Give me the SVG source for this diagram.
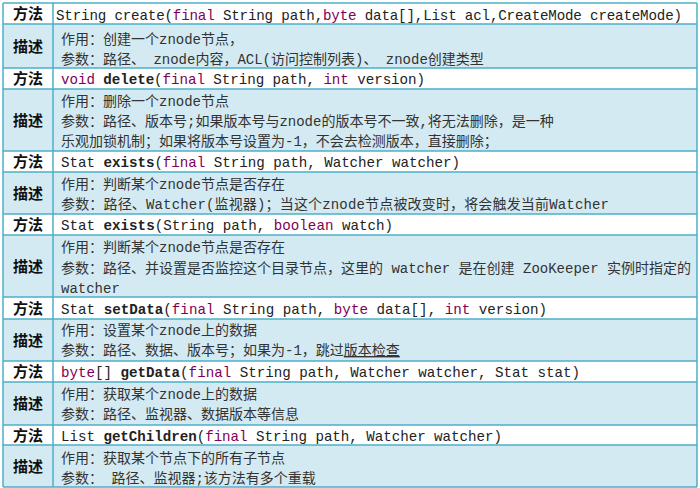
<svg xmlns="http://www.w3.org/2000/svg" width="700" height="488" viewBox="0 0 700 488">
<style>
.bg{fill:#ffffff}
.blue{fill:#D3EAF2}
.ln{stroke:#4FAFC9;stroke-width:1.5;fill:none}
.lbl{font-family:"Noto Sans CJK SC","Noto Sans",sans-serif;font-weight:bold;font-size:15px;fill:#111;text-anchor:middle}
.code{font-family:"Liberation Mono","Noto Sans CJK SC",monospace;font-size:14.2px;fill:#222}
.desc{font-family:"Liberation Mono","Noto Sans CJK SC",monospace;font-size:14px;fill:#333}
.kw{fill:#7F0055}
.b{font-weight:bold}
.u{text-decoration:underline}
</style>
<rect class="bg" x="0" y="0" width="700" height="488"/>
<g id="fills">
<rect class="blue" x="3" y="24" width="694" height="44"/>
<rect class="blue" x="3" y="89" width="694" height="62"/>
<rect class="blue" x="3" y="172" width="694" height="42"/>
<rect class="blue" x="3" y="235" width="694" height="62"/>
<rect class="blue" x="3" y="319" width="694" height="42"/>
<rect class="blue" x="3" y="382" width="694" height="43"/>
<rect class="blue" x="3" y="445" width="694" height="42"/>
</g>
<g id="grid">
<path class="ln" d="M3 3H697M3 24H697M3 68H697M3 89H697M3 151H697M3 172H697M3 214H697M3 235H697M3 297H697M3 319H697M3 361H697M3 382H697M3 425H697M3 445H697M3 487H697"/>
<path class="ln" d="M3 3V487M53 3V487M697 3V487"/>
</g>
<g id="labels">
<text class="lbl" x="28" y="19">方法</text>
<text class="lbl" x="28" y="52">描述</text>
<text class="lbl" x="28" y="84">方法</text>
<text class="lbl" x="28" y="126">描述</text>
<text class="lbl" x="28" y="167">方法</text>
<text class="lbl" x="28" y="199">描述</text>
<text class="lbl" x="28" y="230">方法</text>
<text class="lbl" x="28" y="272">描述</text>
<text class="lbl" x="28" y="313.5">方法</text>
<text class="lbl" x="28" y="346">描述</text>
<text class="lbl" x="28" y="377">方法</text>
<text class="lbl" x="28" y="409">描述</text>
<text class="lbl" x="28" y="440.5">方法</text>
<text class="lbl" x="28" y="472">描述</text>
</g>
<g id="methods">
<text class="code" x="56" y="19.5" textLength="626" lengthAdjust="spacing">String create(<tspan class="kw">final</tspan> String path,<tspan class="kw">byte</tspan> data[],List acl,CreateMode createMode)</text>
<text class="code" x="61" y="84" textLength="364" lengthAdjust="spacing"><tspan class="kw">void</tspan> <tspan class="b">delete</tspan>(<tspan class="kw">final</tspan> String path, <tspan class="kw">int</tspan> version)</text>
<text class="code" x="61" y="167" textLength="399" lengthAdjust="spacing">Stat <tspan class="b">exists</tspan>(<tspan class="kw">final</tspan> String path, Watcher watcher)</text>
<text class="code" x="61" y="230" textLength="332" lengthAdjust="spacing">Stat <tspan class="b">exists</tspan>(String path, <tspan class="kw">boolean</tspan> watch)</text>
<text class="code" x="61" y="313.5" textLength="486" lengthAdjust="spacing">Stat <tspan class="b">setData</tspan>(<tspan class="kw">final</tspan> String path, <tspan class="kw">byte</tspan> data[], <tspan class="kw">int</tspan> version)</text>
<text class="code" x="61" y="376.5" textLength="519" lengthAdjust="spacing"><tspan class="kw">byte</tspan>[] <tspan class="b">getData</tspan>(<tspan class="kw">final</tspan> String path, Watcher watcher, Stat stat)</text>
<text class="code" x="61" y="440.5" textLength="441" lengthAdjust="spacing">List <tspan class="b">getChildren</tspan>(<tspan class="kw">final</tspan> String path, Watcher watcher)</text>
</g>
<g id="descriptions">
<text class="desc" x="61" y="43.5">作用：创建一个znode节点，</text>
<text class="desc" x="61" y="64">参数：路径、 znode内容，ACL(访问控制列表)、 znode创建类型</text>
<text class="desc" x="61" y="106">作用：删除一个znode节点</text>
<text class="desc" x="61" y="126">参数：路径、版本号;如果版本号与znode的版本号不一致,将无法删除，是一种</text>
<text class="desc" x="61" y="146">乐观加锁机制；如果将版本号设置为-1，不会去检测版本，直接删除；</text>
<text class="desc" x="61" y="189">作用：判断某个znode节点是否存在</text>
<text class="desc" x="61" y="209" textLength="548" lengthAdjust="spacing">参数：路径、Watcher(监视器)；当这个znode节点被改变时，将会触发当前Watcher</text>
<text class="desc" x="61" y="252">作用：判断某个znode节点是否存在</text>
<text class="desc" x="61" y="273">参数：路径、并设置是否监控这个目录节点，这里的 watcher 是在创建 ZooKeeper 实例时指定的</text>
<text class="desc" x="61" y="293">watcher</text>
<text class="desc" x="61" y="335">作用：设置某个znode上的数据</text>
<text class="desc" x="61" y="355">参数：路径、数据、版本号；如果为-1，跳过<tspan class="u">版本检查</tspan></text>
<text class="desc" x="61" y="399">作用：获取某个znode上的数据</text>
<text class="desc" x="61" y="419">参数：路径、监视器、数据版本等信息</text>
<text class="desc" x="61" y="463">作用：获取某个节点下的所有子节点</text>
<text class="desc" x="61" y="483">参数： 路径、监视器;该方法有多个重载</text>
</g>
</svg>
